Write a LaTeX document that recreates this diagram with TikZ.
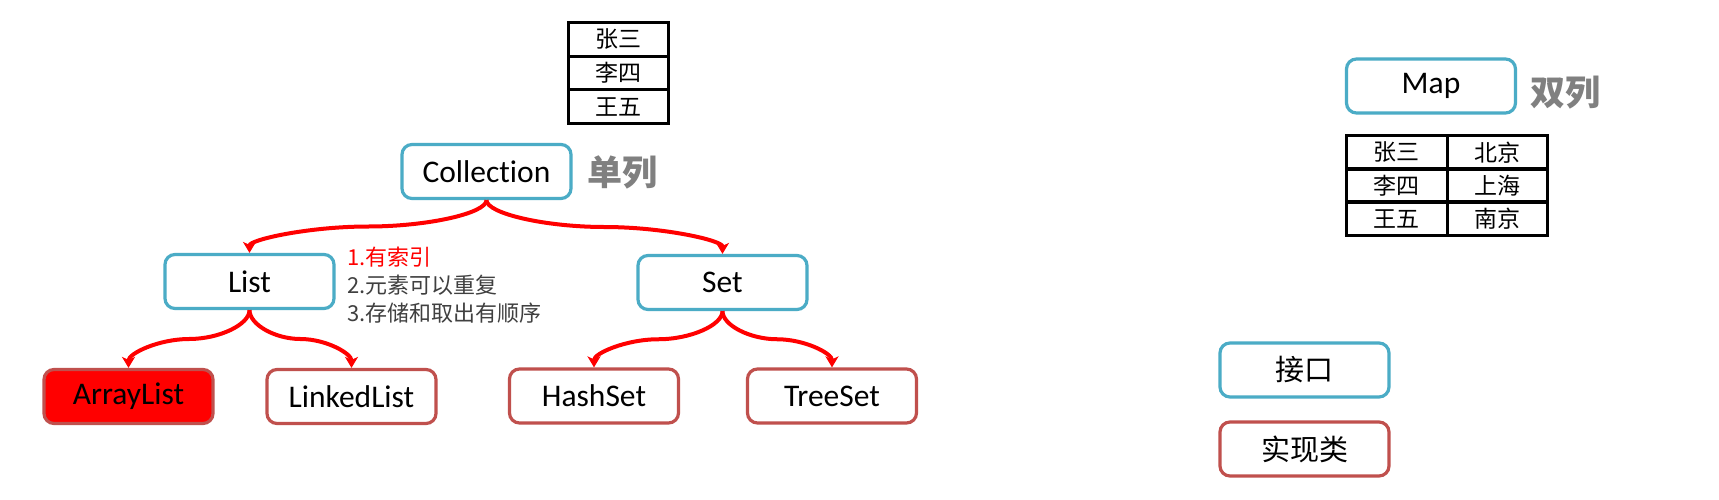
\documentclass[tikz,border=0pt]{standalone}
\usepackage{fontspec}
\setmainfont{Carlito}[Ligatures=NoCommon]
\newfontfamily\cjk{Noto Sans CJK SC}
\usetikzlibrary{calc,arrows.meta}
\definecolor{ifblue}{HTML}{4BACC6}
\definecolor{imred}{HTML}{C0504D}
\definecolor{lblgray}{HTML}{808080}
\definecolor{txtgray}{HTML}{404040}
\tikzset{
 box/.style={draw, line width=3.2pt, rounded corners=10pt, minimum width=169pt, minimum height=54pt, inner sep=0pt, font=\fontsize{31.5}{36}\selectfont, fill=white},
 ibox/.style={box, draw=ifblue},
 cbox/.style={box, draw=imred},
 cell/.style={draw, line width=3pt, minimum width=100.5pt, minimum height=33.67pt, inner sep=0pt, font=\cjk\fontsize{23}{26}\selectfont},
 arr/.style={draw=red, line width=4pt, -{Stealth[length=11pt,width=13pt,inset=3pt]}},
 side/.style={text=lblgray, font=\cjk\bfseries\fontsize{35}{40}\selectfont, anchor=west, inner sep=0pt},
 note/.style={anchor=west, inner sep=0pt, font=\cjk\fontsize{22}{26}\selectfont, text=txtgray},
}
\newcommand{\cconn}[2]{%
 \coordinate (cS) at (#1);
 \coordinate (cT) at (#2);
 \coordinate (cM) at ($(cS)!0.5!(cT)$);
 \draw[arr] (cS) .. controls ($(cS)!0.5!(cS|-cM)$) and ($(cM)!0.5!(cS|-cM)$) .. (cM) .. controls ($(cM)!0.5!(cT|-cM)$) and ($(cT)!0.5!(cT|-cM)$) .. (cT);}
\begin{document}
\begin{tikzpicture}[x=1pt,y=-1pt]
\useasboundingbox[fill=white] (0,0) rectangle (1719,499);
% table 1
\node[cell] (t1) at (618.3,39.3) {张三};
\node[cell] (t2) at (618.3,73) {李四};
\node[cell] (t3) at (618.3,106.7) {王五};
% main tree
\node[ibox] (coll) at (486.5,171.5) {Collection};
\node[side] (dan) at (587,172) {单列};
\node[ibox] (list) at (249.5,281.5) {List};
\node[ibox] (set) at (722.5,282.5) {Set};
\node[cbox, fill=red] (arrl) at (128.5,396.5) {ArrayList};
\node[cbox] (link) at (351.5,396.5) {LinkedList};
\node[cbox] (hash) at (594,396) {HashSet};
\node[cbox] (tree) at (832,396) {TreeSet};
\node[note, text=red] (n1) at (347,257) {1.有索引};
\node[note] (n2) at (347,285) {2.元素可以重复};
\node[note] (n3) at (347,313) {3.存储和取出有顺序};
\cconn{coll.south}{list.north}
\cconn{coll.south}{set.north}
\cconn{list.south}{arrl.north}
\cconn{list.south}{link.north}
\cconn{set.south}{hash.north}
\cconn{set.south}{tree.north}
% map
\node[ibox] (map) at (1431,86) {Map};
\node[side] (shuang) at (1530,93) {双列};
\node[cell] (m11) at (1396.75,152.2) {张三};
\node[cell] (m12) at (1497.25,152.2) {北京};
\node[cell] (m21) at (1396.75,185.5) {李四};
\node[cell] (m22) at (1497.25,185.5) {上海};
\node[cell] (m31) at (1396.75,218.8) {王五};
\node[cell] (m32) at (1497.25,218.8) {南京};
% legend
\node[ibox, font=\cjk\fontsize{29}{34}\selectfont] (jk) at (1304.5,370) {接口};
\node[cbox, font=\cjk\fontsize{29}{34}\selectfont] (sx) at (1304.5,449) {实现类};
\end{tikzpicture}
\end{document}
